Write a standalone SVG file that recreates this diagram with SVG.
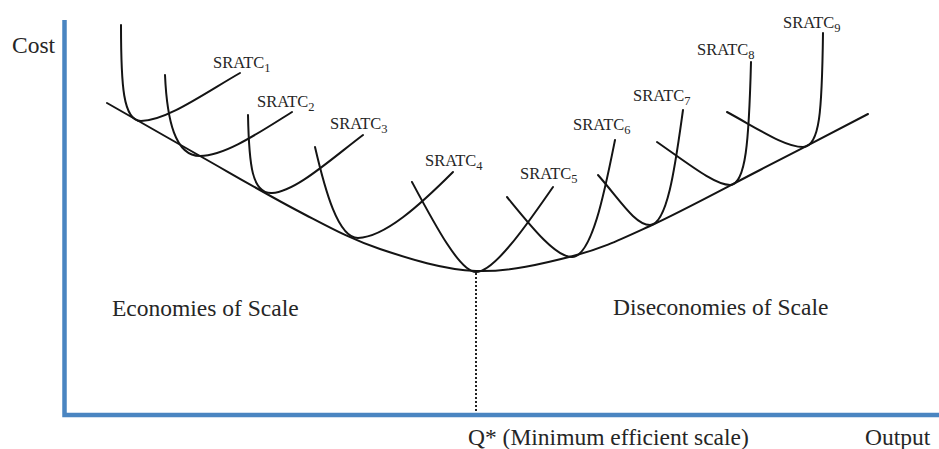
<svg xmlns="http://www.w3.org/2000/svg" width="939" height="449" viewBox="0 0 939 449">
<style>
.axis{stroke:#4a85c1;stroke-width:4.5;fill:none}
.curve{stroke:#141414;stroke-width:2;fill:none;stroke-linecap:round}
.dot{stroke:#222;stroke-width:2;stroke-dasharray:2 2;fill:none}
.lbl{font-family:"Liberation Serif","Times New Roman",serif;font-size:16.5px;fill:#262626}
.sub{font-size:12.5px}
.big{font-family:"Liberation Serif","Times New Roman",serif;font-size:23.5px;fill:#262626}
</style>
<rect width="939" height="449" fill="#fff"/>
<g id="axes">
<path class="axis" d="M64.5,20 V415 H939"/>
<text class="big" x="12" y="53">Cost</text>
<text class="big" x="865" y="445">Output</text>
</g>
<g id="connectors">
<path class="dot" d="M476,273 V413"/>
</g>
<g id="lratc">
<path class="curve" d="M107,103 C122.5,111.8 167.8,137.8 200,156 C232.2,174.2 270,196.5 300,212 C330,227.5 350.7,239.2 380,249 C409.3,258.8 443.8,269.8 476,271 C508.2,272.2 544,263.5 573,256 C602,248.5 618.8,240.3 650,226 C681.2,211.7 723.7,188.7 760,170 C796.3,151.3 850,123.3 868,114"/>
</g>
<g id="sratc1">
<path class="curve" d="M121,25 C121,85 123,121 141,121 C166,121 205,93 240,73"/>
<text class="lbl" x="213" y="68">SRATC<tspan class="sub" dy="4">1</tspan></text>
</g>
<g id="sratc2">
<path class="curve" d="M165,75 C167,120 175,156 200,156 C225,156 260,132 292,112"/>
<text class="lbl" x="257" y="107">SRATC<tspan class="sub" dy="4">2</tspan></text>
</g>
<g id="sratc3">
<path class="curve" d="M248,115 C249,165 252,194 272,193 C295,192 330,160 363,135"/>
<text class="lbl" x="330" y="129">SRATC<tspan class="sub" dy="4">3</tspan></text>
</g>
<g id="sratc4">
<path class="curve" d="M315,147 C325,190 338,238 358,238 C385,237 420,205 453,172"/>
<text class="lbl" x="425" y="166">SRATC<tspan class="sub" dy="4">4</tspan></text>
</g>
<g id="sratc5">
<path class="curve" d="M412,182 C435,225 460,272 476,272 C495,272 530,220 553,187"/>
<text class="lbl" x="520" y="179">SRATC<tspan class="sub" dy="4">5</tspan></text>
</g>
<g id="sratc6">
<path class="curve" d="M507,197 C530,225 555,257 572,257 C592,257 605,190 615,140"/>
<text class="lbl" x="573" y="130">SRATC<tspan class="sub" dy="4">6</tspan></text>
</g>
<g id="sratc7">
<path class="curve" d="M598,175 C620,200 635,225 650,225 C668,225 676,160 683,110"/>
<text class="lbl" x="633" y="101">SRATC<tspan class="sub" dy="4">7</tspan></text>
</g>
<g id="sratc8">
<path class="curve" d="M657,142 C690,165 715,185 730,185 C746,185 749,140 751,62"/>
<text class="lbl" x="697" y="55">SRATC<tspan class="sub" dy="4">8</tspan></text>
</g>
<g id="sratc9">
<path class="curve" d="M727,112 C760,130 785,147 803,147 C820,147 822,110 823,33"/>
<text class="lbl" x="783" y="28">SRATC<tspan class="sub" dy="4">9</tspan></text>
</g>
<g id="regions">
<text class="big" x="112" y="316">Economies of Scale</text>
<text class="big" x="613" y="315">Diseconomies of Scale</text>
<text class="big" x="468" y="445">Q* (Minimum efficient scale)</text>
</g>
</svg>
